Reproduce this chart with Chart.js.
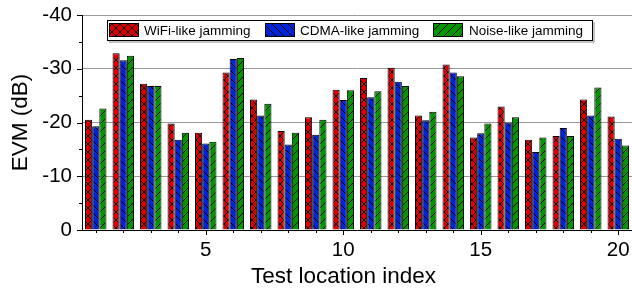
<!DOCTYPE html>
<html>
<head>
<meta charset="utf-8">
<script src="https://cdn.jsdelivr.net/npm/chart.js@4.4.0/dist/chart.umd.min.js"></script>
<style>
html,body{margin:0;padding:0;background:#fff;}
canvas{display:block;}
</style>
</head>
<body>
<canvas id="c" width="632" height="288"></canvas>
<script>
const categories = ['1','2','3','4','5','6','7','8','9','10','11','12','13','14','15','16','17','18','19','20'];
const wifiEVM  = [-20.5, -32.9, -27.2, -19.8, -18.1, -29.3, -24.3, -18.4, -21.0, -26.1, -28.3, -30.2, -21.3, -30.8, -17.2, -23.0, -16.8, -17.5, -24.3, -21.1];
const cdmaEVM  = [-19.3, -31.6, -26.8, -16.8, -16.1, -31.8, -21.3, -15.9, -17.7, -24.2, -24.7, -27.6, -20.4, -29.3, -18.0, -20.0, -14.5, -19.0, -21.3, -17.0];
const noiseEVM = [-22.6, -32.4, -26.8, -18.1, -16.4, -32.0, -23.5, -18.1, -20.5, -26.0, -25.8, -26.8, -22.0, -28.6, -19.8, -21.0, -17.2, -17.5, -26.5, -15.7];
const seriesNames = ['WiFi-like jamming', 'CDMA-like jamming', 'Noise-like jamming'];
const xTickLabels = ['5','10','15','20'];
const yTicks = [0, -10, -20, -30, -40];
const xTitle = 'Test location index';

const FONT = "'Liberation Sans', Arial, sans-serif";

function makePattern(color, kind) {
  const s = 8;
  const cv = document.createElement('canvas');
  cv.width = s; cv.height = s;
  const g = cv.getContext('2d');
  g.fillStyle = color;
  g.fillRect(0, 0, s, s);
  g.strokeStyle = '#000';
  g.lineWidth = 1;
  g.beginPath();
  if (kind === 'back' || kind === 'cross') {
    g.moveTo(-1, -1); g.lineTo(s + 1, s + 1);
    g.moveTo(-1, s - 1); g.lineTo(1, s + 1);
    g.moveTo(s - 1, -1); g.lineTo(s + 1, 1);
  }
  if (kind === 'fwd' || kind === 'cross') {
    g.moveTo(-1, s + 1); g.lineTo(s + 1, -1);
    g.moveTo(-1, 1); g.lineTo(1, -1);
    g.moveTo(s - 1, s + 1); g.lineTo(s + 1, s - 1);
  }
  g.stroke();
  return g.createPattern(cv, 'repeat');
}

const colors = ['rgb(222,0,0)', 'rgb(0,36,214)', 'rgb(0,150,0)'];
const kinds = ['cross', 'back', 'fwd'];
const patterns = colors.map((c, i) => makePattern(c, kinds[i]));

const ticksPlugin = {
  id: 'customTicks',
  afterDraw(chart) {
    const ctx = chart.ctx;
    const x = chart.scales.x, y = chart.scales.y;
    ctx.save();
    ctx.strokeStyle = '#000';
    ctx.lineWidth = 1;
    ctx.beginPath();
    categories.forEach((c, i) => {
      const px = Math.round(x.getPixelForValue(i)) + 0.5;
      const len = xTickLabels.includes(c) ? 5 : 3;
      ctx.moveTo(px, y.bottom); ctx.lineTo(px, y.bottom + len);
    });
    for (let v = 0; v >= -40; v -= 5) {
      const py = Math.round(y.getPixelForValue(v)) + 0.5;
      const len = (v % 10 === 0) ? 5 : 3;
      ctx.moveTo(x.left, py); ctx.lineTo(x.left - len, py);
    }
    ctx.stroke();

    // x axis title
    ctx.fillStyle = '#000';
    ctx.font = '22.5px ' + FONT;
    ctx.textAlign = 'center';
    ctx.textBaseline = 'alphabetic';
    ctx.fillText(xTitle, 343.5, 283);

    // legend
    const bx = 107.5, by = 20.5, bw = 485, bh = 20;
    ctx.fillStyle = '#fff';
    ctx.fillRect(bx, by, bw, bh);
    ctx.strokeStyle = '#888';
    ctx.beginPath();
    ctx.moveTo(bx + 1.5, by + bh + 1.5); ctx.lineTo(bx + bw + 1.5, by + bh + 1.5); ctx.lineTo(bx + bw + 1.5, by + 1.5);
    ctx.stroke();
    ctx.strokeStyle = '#000';
    ctx.strokeRect(bx, by, bw, bh);
    const swX = [109.5, 265.5, 433.5];
    const txX = [144, 300, 469];
    ctx.font = '13.5px ' + FONT;
    ctx.textBaseline = 'middle';
    ctx.textAlign = 'left';
    chart.data.datasets.forEach((ds, i) => {
      ctx.fillStyle = ds.backgroundColor;
      ctx.fillRect(swX[i], 23.5, 29, 13);
      ctx.strokeStyle = '#000';
      ctx.strokeRect(swX[i], 23.5, 29, 13);
      ctx.fillStyle = '#000';
      ctx.fillText(ds.label, txX[i], 31);
    });
    ctx.restore();
  }
};

new Chart(document.getElementById('c'), {
  type: 'bar',
  data: {
    labels: categories,
    datasets: [
      { label: seriesNames[0], data: wifiEVM, backgroundColor: patterns[0], borderColor: '#000', borderWidth: 1 },
      { label: seriesNames[1], data: cdmaEVM, backgroundColor: patterns[1], borderColor: '#000', borderWidth: 1 },
      { label: seriesNames[2], data: noiseEVM, backgroundColor: patterns[2], borderColor: '#000', borderWidth: 1 }
    ]
  },
  options: {
    responsive: false,
    devicePixelRatio: 1,
    animation: false,
    events: [],
    categoryPercentage: 0.78,
    barPercentage: 1.0,
    layout: { padding: { top: 15, left: 0, right: -2, bottom: 0 } },
    plugins: { legend: { display: false }, tooltip: { enabled: false } },
    scales: {
      x: {
        grid: { display: false, drawTicks: false },
        border: { display: true, color: '#000', width: 1 },
        ticks: {
          autoSkip: false, maxRotation: 0, padding: 8,
          color: '#000', font: { family: FONT, size: 20.5 },
          callback: function(v, i) { const l = categories[i]; return xTickLabels.includes(l) ? l : ''; }
        },
        title: { display: false },
        afterFit(s) { s.height = 58; s.paddingLeft = 0; s.paddingRight = 0; }
      },
      y: {
        reverse: true,
        min: -40, max: 0,
        afterBuildTicks(s) { s.ticks = yTicks.map(v => ({ value: v })); },
        grid: {
          drawTicks: false,
          color: ctx => (ctx.tick && ctx.tick.value === 0) ? 'rgba(0,0,0,0)' : '#999',
          lineWidth: 1
        },
        border: { display: true, color: '#000', width: 1 },
        ticks: { padding: 10, color: '#000', font: { family: FONT, size: 20.5 } },
        title: { display: true, text: 'EVM (dB)', color: '#000', font: { family: FONT, size: 22.5 }, padding: { top: 7, bottom: 0 } },
        afterFit(s) { s.width = 82; s.paddingTop = 0; s.paddingBottom = 0; }
      }
    }
  },
  plugins: [ticksPlugin]
});
</script>
</body>
</html>
